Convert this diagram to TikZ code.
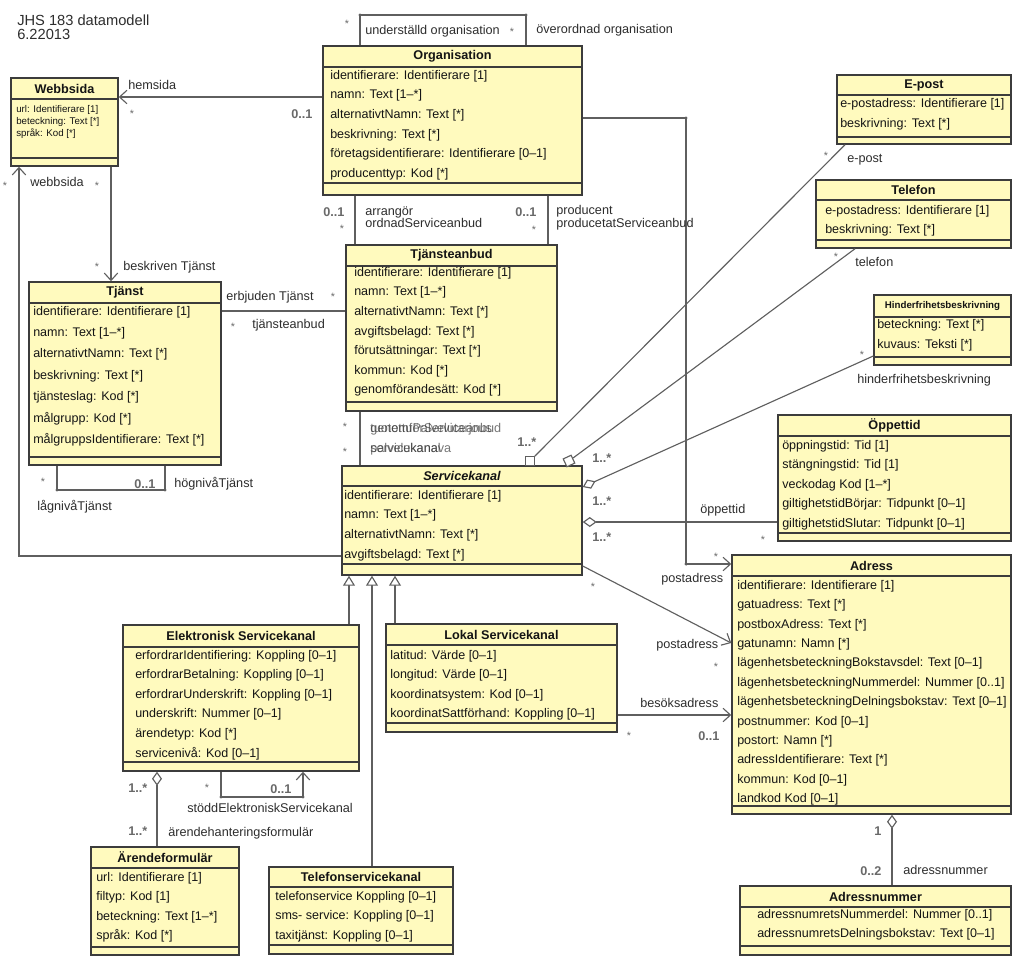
\documentclass[tikz,border=0pt]{standalone}
\usepackage{fontspec}
\setmainfont{Liberation Sans}
\usetikzlibrary{arrows.meta,fit}

\definecolor{boxfill}{RGB}{255,250,190}
\definecolor{boxline}{RGB}{60,60,60}
\definecolor{linegray}{RGB}{95,95,95}
\definecolor{txt}{RGB}{20,20,20}
\definecolor{lbl}{RGB}{45,45,45}
\definecolor{multgray}{RGB}{105,105,105}

\tikzset{
  klass/.style={draw=boxline, fill=boxfill, line width=1.1pt, inner sep=0pt},
  klasslinje/.style={draw=boxline, line width=1.1pt},
  rubrik/.style={inner sep=0pt, text=txt, font=\bfseries\fontsize{9.5}{11}\selectfont},
  attr/.style={anchor=west, inner sep=0pt, text=txt, font=\fontsize{9.4}{11}\selectfont},
  roll/.style={anchor=base west, inner sep=0pt, text=lbl, font=\fontsize{9.5}{11}\selectfont},
  mult/.style={anchor=base west, inner sep=0pt, text=multgray, font=\bfseries\fontsize{9.5}{11}\selectfont},
  stjarna/.style={anchor=base, inner sep=0pt, text=multgray, font=\fontsize{8}{9}\selectfont},
  dubbel/.style={opacity=0.65},
  assoc/.style={draw=linegray, line width=0.85pt},
  pil/.style={-{Straight Barb[length=5.5pt,width=10pt]}},
  arv/.style={-{Triangle[fill=white,length=7.5pt,width=9pt]}},
  agg/.style={{Diamond[fill=white,length=10.5pt,width=7.5pt]}-},
  kvadrat/.style={draw=linegray, fill=white, line width=0.85pt, minimum size=6.5pt, inner sep=0pt},
}

% name, x1, y1, x2, y2, header line, bottom line, title
\newcommand{\klass}[8]{%
  \node[klass, fit={(#2,#3) (#4,#5)}] (#1) {};
  \draw[klasslinje] (#2,#6) -- (#4,#6) (#2,#7) -- (#4,#7);
  \node[rubrik] (#1-titel) at ({(#2+#4)/2},{(#3+#6)/2}) {#8};
}
% name, x, first y, step, list
\newcommand{\attrs}[5]{%
  \foreach \rad [count=\i] in {#5}
    \node[attr] (#1-\i) at (#2,{#3+#4*(\i-1)}) {\rad};
}

\begin{document}
\begin{tikzpicture}[x=0.75pt, y=-0.75pt]
\useasboundingbox (0,0) rectangle (1024,967);

\node[anchor=base west, inner sep=0pt, text=lbl, font=\fontsize{11}{13}\selectfont] (rubrikJHS) at (17,26) {JHS 183 datamodell};
\node[anchor=base west, inner sep=0pt, text=lbl, font=\fontsize{11}{13}\selectfont] (rubrikDatum) at (17,39) {6.22013};

% connectors first, boxes on top
\coordinate (oL) at (360,15);
\coordinate (oR) at (526,15);
\coordinate (hemY) at (0,97);
\coordinate (wtX) at (111,0);
\coordinate (swC) at (19,556);
\coordinate (ttY) at (0,311);
\coordinate (tL) at (57,490);
\coordinate (tR) at (165,490);
\coordinate (arrX) at (355,0);
\coordinate (prodX) at (548,0);
\coordinate (tsX) at (360,0);
\coordinate (oa1) at (686,118);
\coordinate (oa2) at (686,564);
\coordinate (saA) at (0,566);
\coordinate (saB) at (0,643);
\coordinate (laY) at (0,715);
\coordinate (g1) at (349,0);
\coordinate (g2) at (372,0);
\coordinate (g3) at (395,0);
\coordinate (afX) at (157,0);
\coordinate (eL) at (221,797);
\coordinate (eR) at (303,797);
\coordinate (anX) at (892,0);
\coordinate (epX) at (845,0);
\coordinate (tfX) at (855,0);
\coordinate (hA) at (0,487);
\coordinate (hB) at (0,356);
\coordinate (opY) at (0,522);

% classes
\klass{web}{11}{78}{118}{166}{99}{158}{Webbsida}
\klass{org}{323}{46}{582}{195}{67}{183}{Organisation}
\klass{tja}{346}{245}{557}{411}{266}{402}{Tjänsteanbud}
\klass{tjst}{29}{282}{221}{465}{303}{457}{Tjänst}
\klass{sk}{342}{466}{582}{575}{486}{564}{\itshape Servicekanal}
\klass{ek}{123}{625}{359}{771}{647}{762}{Elektronisk Servicekanal}
\klass{arf}{91}{847}{239}{955}{868}{947}{Ärendeformulär}
\klass{tsk}{269}{867}{453}{954}{887}{945}{Telefonservicekanal}
\klass{lok}{386}{624}{617}{732}{645}{723}{Lokal Servicekanal}
\klass{adr}{732}{555}{1011}{814}{576}{806}{Adress}
\klass{anr}{740}{886}{1011}{955}{907}{946}{Adressnummer}
\klass{epost}{837}{75}{1011}{144}{95}{137}{E-post}
\klass{tel}{816}{180}{1011}{248}{200}{240}{Telefon}
\klass{hin}{874}{295}{1011}{365}{317}{357}{\fontsize{7.3}{8}\selectfont Hinderfrihetsbeskrivning}
\klass{opp}{778}{415}{1011}{541}{436}{533}{Öppettid}

\foreach \rad [count=\i] in {url: Identifierare [1], beteckning: Text [*], språk: Kod [*]}
  \node[attr, font=\fontsize{7.3}{8}\selectfont] (web-\i) at (16,{110+12*(\i-1)}) {\rad};
\attrs{org}{330}{76}{19.6}{identifierare: Identifierare [1], namn: Text [1–*], alternativtNamn: Text [*], beskrivning: Text [*], företagsidentifierare: Identifierare [0–1], producenttyp: Kod [*]}
\attrs{tja}{354}{273}{19.6}{identifierare: Identifierare [1], namn: Text [1–*], alternativtNamn: Text [*], avgiftsbelagd: Text [*], förutsättningar: Text [*], kommun: Kod [*], genomförandesätt: Kod [*]}
\attrs{tjst}{33}{312}{21.3}{identifierare: Identifierare [1], namn: Text [1–*], alternativtNamn: Text [*], beskrivning: Text [*], tjänsteslag: Kod [*], målgrupp: Kod [*], målgruppsIdentifierare: Text [*]}
\attrs{sk}{344}{496}{19.6}{identifierare: Identifierare [1], namn: Text [1–*], alternativtNamn: Text [*], avgiftsbelagd: Text [*]}
\attrs{ek}{135}{656}{19.5}{erfordrarIdentifiering: Koppling [0–1], erfordrarBetalning: Koppling [0–1], erfordrarUnderskrift: Koppling [0–1], underskrift: Nummer [0–1], ärendetyp: Kod [*], servicenivå: Kod [0–1]}
\attrs{arf}{96}{878}{19.4}{url: Identifierare [1], filtyp: Kod [1], beteckning: Text [1–*], språk: Kod [*]}
\attrs{tsk}{275}{897}{19.5}{telefonservice Koppling [0–1], sms- service: Koppling [0–1], taxitjänst: Koppling [0–1]}
\attrs{lok}{390}{656}{19.5}{latitud: Värde [0–1], longitud: Värde [0–1], koordinatsystem: Kod [0–1], koordinatSattförhand: Koppling [0–1]}
\attrs{adr}{737}{586}{19.4}{identifierare: Identifierare [1], gatuadress: Text [*], postboxAdress: Text [*], gatunamn: Namn [*], lägenhetsbeteckningBokstavsdel: Text [0–1], lägenhetsbeteckningNummerdel: Nummer [0..1], lägenhetsbeteckningDelningsbokstav: Text [0–1], postnummer: Kod [0–1], postort: Namn [*], adressIdentifierare: Text [*], kommun: Kod [0–1], landkod Kod [0–1]}
\attrs{anr}{757}{915}{19.5}{adressnumretsNummerdel: Nummer [0..1], adressnumretsDelningsbokstav: Text [0–1]}
\attrs{epost}{840}{104}{20}{e-postadress: Identifierare [1], beskrivning: Text [*]}
\attrs{tel}{825}{211}{19.5}{e-postadress: Identifierare [1], beskrivning: Text [*]}
\attrs{hin}{877}{325}{20}{beteckning: Text [*], kuvaus: Teksti [*]}
\attrs{opp}{782}{446}{19.5}{öppningstid: Tid [1], stängningstid: Tid [1], veckodag Kod [1–*], giltighetstidBörjar: Tidpunkt [0–1], giltighetstidSlutar: Tidpunkt [0–1]}

% associations
\draw[assoc] (org.north -| oL) -- (oL) -- (oR) -- (org.north -| oR);
\draw[assoc,pil] (org.west |- hemY) -- (web.east |- hemY);
\draw[assoc,pil] (web.south -| wtX) -- (tjst.north -| wtX);
\draw[assoc,pil] (sk.west |- swC) -- (swC) -- (web.south -| swC);
\draw[assoc] (tjst.east |- ttY) -- (tja.west |- ttY);
\draw[assoc] (tjst.south -| tL) -- (tL) -- (tR) -- (tjst.south -| tR);
\draw[assoc] (org.south -| arrX) -- (tja.north -| arrX);
\draw[assoc] (org.south -| prodX) -- (tja.north -| prodX);
\draw[assoc] (tja.south -| tsX) -- (sk.north -| tsX);
\draw[assoc,pil] (org.east |- oa1) -- (oa1) -- (oa2) -- (adr.west |- oa2);
\draw[assoc,pil] (sk.east |- saA) -- (adr.west |- saB);
\draw[assoc,pil] (lok.east |- laY) -- (adr.west |- laY);
\draw[assoc,pil] (ek.south -| eL) -- (eL) -- (eR) -- (ek.south -| eR);
\draw[assoc,agg] (ek.south -| afX) -- (arf.north -| afX);
\draw[assoc,agg] (adr.south -| anX) -- (anr.north -| anX);
\draw[assoc,agg] (sk.east |- hA) -- (hin.west |- hB);
\draw[assoc,agg] (sk.east |- opY) -- (opp.west |- opY);
\node[kvadrat] (sqA) at (530,461) {};
\node[kvadrat, rotate=25] (sqB) at (569,461) {};
\draw[assoc] (sqA) -- (epost.south -| epX);
\draw[assoc] (sqB) -- (tel.south -| tfX);

% generalization
\draw[assoc,arv] (ek.north -| g1) -- (sk.south -| g1);
\draw[assoc,arv] (tsk.north -| g2) -- (sk.south -| g2);
\draw[assoc,arv] (lok.north -| g3) -- (sk.south -| g3);

\foreach \p in {oL,oR,tL,tR,oa1,oa2,eL,eR}
  \fill[linegray] (\p) circle (1.3pt);

% roles and multiplicities
\node[stjarna] (m-ou1) at (347,27) {*};
\node[roll] (r-und) at (365,34) {underställd organisation};
\node[stjarna] (m-ou2) at (512,35) {*};
\node[roll] (r-over) at (536,33) {överordnad organisation};
\node[roll] (r-hem) at (128,89) {hemsida};
\node[stjarna] (m-hem1) at (132,117) {*};
\node[mult] (m-hem2) at (291,118) {0..1};
\node[stjarna] (m-wb1) at (5,189) {*};
\node[roll] (r-wb) at (30,186) {webbsida};
\node[stjarna] (m-wb2) at (97,189) {*};
\node[stjarna] (m-bt) at (97,270) {*};
\node[roll] (r-bt) at (123,270) {beskriven Tjänst};
\node[roll] (r-erb) at (226,300) {erbjuden Tjänst};
\node[stjarna] (m-erb) at (333,300) {*};
\node[stjarna] (m-ta) at (233,330) {*};
\node[roll] (r-ta) at (252,328) {tjänsteanbud};
\node[stjarna] (m-lag) at (43,485) {*};
\node[mult] (m-hog) at (134,488) {0..1};
\node[roll] (r-hog) at (174,487) {högnivåTjänst};
\node[roll] (r-lag) at (37,510) {lågnivåTjänst};
\node[mult] (m-arr1) at (323,216) {0..1};
\node[stjarna] (m-arr2) at (342,232) {*};
\node[roll] (r-arr1) at (365,215) {arrangör};
\node[roll] (r-arr2) at (365,227) {ordnadServiceanbud};
\node[mult] (m-pro1) at (515,216) {0..1};
\node[stjarna] (m-pro2) at (534,233) {*};
\node[roll] (r-pro1) at (556,214) {producent};
\node[roll] (r-pro2) at (556,227) {producetatServiceanbud};
\node[stjarna] (m-ts1) at (345,430) {*};
\node[stjarna] (m-ts2) at (345,455) {*};
% two role names printed on top of each other
\node[roll,dubbel] (r-ts1) at (370,432) {\rlap{genomförServiceanbud}tuotettuPalvelutarjous};
\node[roll,dubbel] (r-ts2) at (370,452) {\rlap{servicekanal}palvelukanava};
\node[mult] (m-sk1) at (517,446) {1..*};
\node[mult] (m-sk2) at (592,462) {1..*};
\node[mult] (m-sk3) at (592,505) {1..*};
\node[mult] (m-sk4) at (592,541) {1..*};
\node[stjarna] (m-ep) at (826,159) {*};
\node[roll] (r-ep) at (847,162) {e-post};
\node[stjarna] (m-tf) at (836,260) {*};
\node[roll] (r-tf) at (855,266) {telefon};
\node[stjarna] (m-hi) at (862,358) {*};
\node[roll] (r-hi) at (857,383) {hinderfrihetsbeskrivning};
\node[roll] (r-op) at (700,513) {öppettid};
\node[stjarna] (m-op) at (763,543) {*};
\node[stjarna] (m-pa1) at (716,560) {*};
\node[roll] (r-pa1) at (661,582) {postadress};
\node[stjarna] (m-pa2) at (593,590) {*};
\node[roll] (r-pa2) at (656,648) {postadress};
\node[stjarna] (m-pa3) at (716,670) {*};
\node[roll] (r-bs) at (640,707) {besöksadress};
\node[stjarna] (m-bs1) at (629,739) {*};
\node[mult] (m-bs2) at (698,740) {0..1};
\node[mult] (m-an1) at (874,835) {1};
\node[mult] (m-an2) at (860,875) {0..2};
\node[roll] (r-an) at (903,874) {adressnummer};
\node[mult] (m-af1) at (128,792) {1..*};
\node[stjarna] (m-se1) at (207,791) {*};
\node[mult] (m-se2) at (270,793) {0..1};
\node[roll] (r-se) at (187,812) {stöddElektroniskServicekanal};
\node[mult] (m-af2) at (128,835) {1..*};
\node[roll] (r-af) at (168,836) {ärendehanteringsformulär};
\end{tikzpicture}
\end{document}
